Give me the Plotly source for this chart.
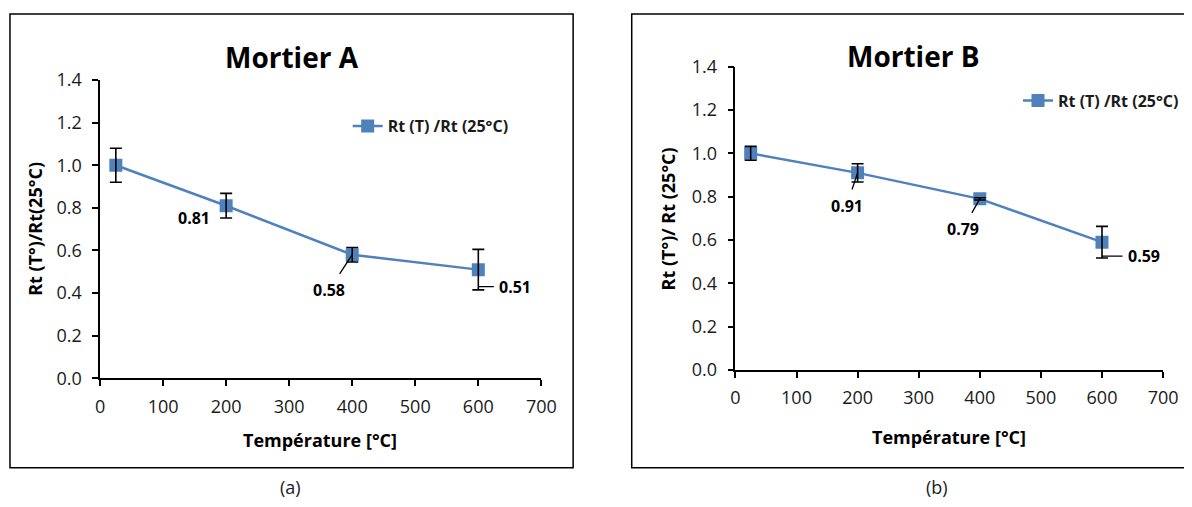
import plotly.graph_objects as go

# ---------------- data ----------------
temps = [25, 200, 400, 600]
ratio_a = [1.00, 0.81, 0.58, 0.51]
err_a = [0.08, 0.058, 0.034, 0.095]
ratio_b = [1.00, 0.91, 0.79, 0.59]
err_b = [0.032, 0.042, 0.005, 0.073]

x_ticks = [0, 100, 200, 300, 400, 500, 600, 700]
y_ticks = [0.0, 0.2, 0.4, 0.6, 0.8, 1.0, 1.2, 1.4]

series_name = "Rt (T) /Rt (25°C)"
title_a = "Mortier A"
title_b = "Mortier B"
xlabel = "Température [°C]"
ylabel_a = "Rt (T°)/Rt(25°C)"
ylabel_b = "Rt (T°)/ Rt (25°C)"

# ---------------- style ----------------
OFF = 8  # page body margin
W, H = 1192 - 2 * OFF, 507 - 2 * OFF
BLUE = "#4F81BD"
FONT = "Open Sans"
TXT = "#1a1a1a"

def px(xp):
    return (xp - OFF) / W

def py(yp):
    return 1 - (yp - OFF) / H

fig = go.Figure()

for i, (vals, errs, leg) in enumerate([(ratio_a, err_a, "legend"), (ratio_b, err_b, "legend2")]):
    xa = "x" if i == 0 else "x2"
    ya = "y" if i == 0 else "y2"
    fig.add_trace(go.Scatter(
        x=temps, y=vals, mode="lines+markers", name=series_name,
        line=dict(color=BLUE, width=2.5),
        marker=dict(symbol="square", size=13, color=BLUE),
        xaxis=xa, yaxis=ya, legend=leg, hoverinfo="skip",
    ))
    fig.add_trace(go.Scatter(
        x=temps, y=vals, mode="markers", showlegend=False,
        marker=dict(size=1, color="rgba(0,0,0,0)"),
        error_y=dict(type="data", array=errs, visible=True, color="black",
                     thickness=1.6, width=6),
        xaxis=xa, yaxis=ya, hoverinfo="skip",
    ))

axis_common = dict(
    showgrid=False, zeroline=False, showline=True, linecolor="black", linewidth=1.5,
    ticks="outside", ticklen=6, tickwidth=1.5, tickcolor="black",
    tickfont=dict(family=FONT, size=18, color=TXT), fixedrange=True, automargin=False,
)

fig.update_layout(
    width=W, height=H,
    margin=dict(l=0, r=0, t=0, b=0),
    paper_bgcolor="white", plot_bgcolor="white",
    xaxis=dict(domain=[px(100.7), px(545)], range=[0, 700], tickvals=x_ticks,
               anchor="y", ticklabelstandoff=5, **axis_common),
    yaxis=dict(domain=[py(378.3), py(80)], range=[0, 1.4], tickvals=y_ticks,
               tickformat=".1f", anchor="x", ticklabelstandoff=7, **axis_common),
    xaxis2=dict(domain=[px(740.4), px(1171)], range=[0, 700], tickvals=x_ticks,
                anchor="y2", ticklabelstandoff=5, **axis_common),
    yaxis2=dict(domain=[py(370), py(66.7)], range=[0, 1.4], tickvals=y_ticks,
                tickformat=".1f", anchor="x2", ticklabelstandoff=7, **axis_common),
    legend=dict(x=px(350), y=py(126), xanchor="left", yanchor="middle",
                font=dict(family=FONT, size=16, color=TXT, weight="bold"),
                bgcolor="rgba(0,0,0,0)"),
    legend2=dict(x=px(1025), y=py(100.7), xanchor="left", yanchor="middle",
                 font=dict(family=FONT, size=16, color=TXT, weight="bold"),
                 bgcolor="rgba(0,0,0,0)"),
    showlegend=True,
)

# frames around each chart
fig.add_shape(type="rect", xref="paper", yref="paper",
              x0=px(10), x1=px(577), y0=py(467.7), y1=py(14),
              line=dict(color="black", width=1.5))
fig.add_shape(type="rect", xref="paper", yref="paper",
              x0=px(636), x1=1.05, y0=py(467.7), y1=py(14),
              line=dict(color="black", width=1.5))

ann = []
def text_ann(x, y, text, size, bold=True, angle=0):
    ann.append(dict(x=x, y=y, xref="paper", yref="paper", text=text, showarrow=False,
                    textangle=angle, xanchor="center", yanchor="middle",
                    font=dict(family=FONT, size=size, color="black" if bold else TXT,
                              weight="bold" if bold else "normal")))

text_ann(px(294), py(57), title_a, 28)
text_ann(px(920), py(56), title_b, 28)
text_ann(px(322.6), py(440), xlabel, 18)
text_ann(px(955), py(437), xlabel, 18)
text_ann(px(35), py(229), ylabel_a, 18, angle=-90)
text_ann(px(673), py(219), ylabel_b, 18, angle=-90)
text_ann(px(292), py(487), "(a)", 18, bold=False)
text_ann(px(943), py(487), "(b)", 18, bold=False)

LBL = dict(family=FONT, size=16, color="black", weight="bold")

def lab(xa, ya, xv, yv, ax, ay, arrow=True, yshift=0, xshift=0):
    d = dict(x=xv, y=yv, xref=xa, yref=ya, text=f"{yv:.2f}", font=LBL,
             showarrow=arrow, xshift=xshift, yshift=yshift)
    if arrow:
        d.update(ax=ax, ay=ay, axref="pixel", ayref="pixel", arrowhead=0,
                 arrowwidth=1.3, arrowcolor="black", standoff=0, startstandoff=4)
    ann.append(d)

# Mortier A labels
lab("x", "y", temps[1], ratio_a[1], 0, 0, arrow=False, xshift=-32, yshift=-12)
lab("x", "y", temps[2], ratio_a[2], -23, 35)
lab("x", "y", temps[3], ratio_a[3], 37, 0, yshift=-17)
# Mortier B labels
lab("x2", "y2", temps[1], ratio_b[1], -11, 33)
lab("x2", "y2", temps[2], ratio_b[2], -17, 30)
lab("x2", "y2", temps[3], ratio_b[3], 42, 0, yshift=-14)

fig.update_layout(annotations=ann)

fig.write_html("out.html")
